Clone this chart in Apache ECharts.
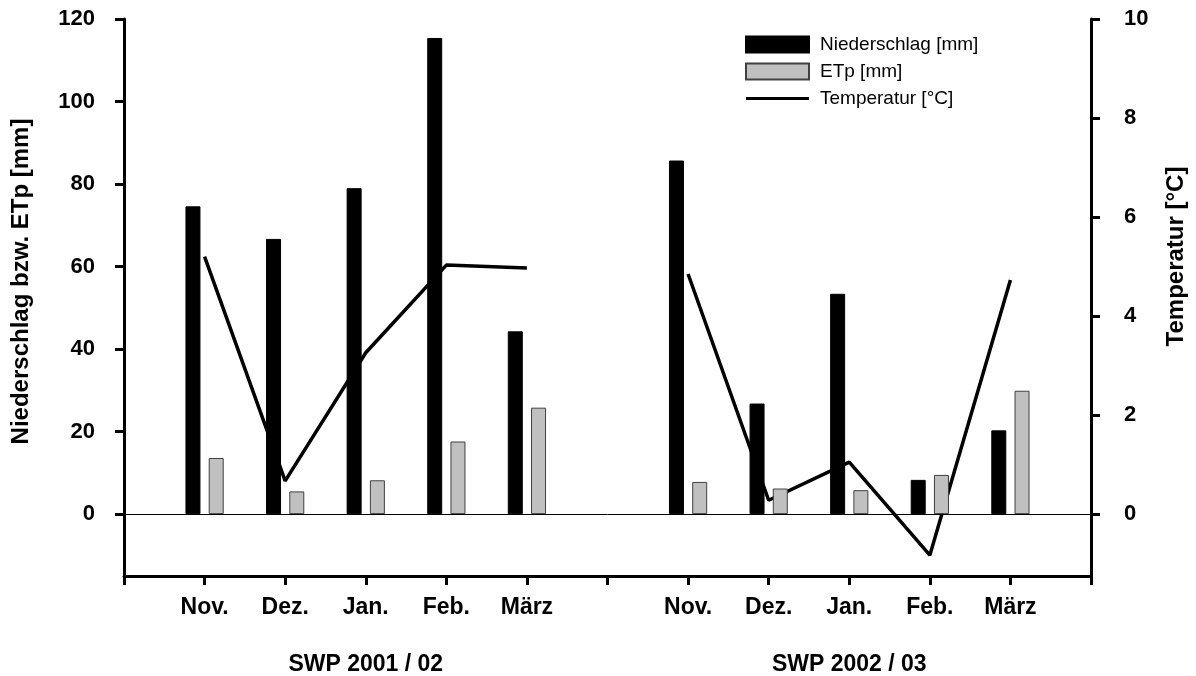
<!DOCTYPE html>
<html>
<head>
<meta charset="utf-8">
<script src="https://cdn.jsdelivr.net/npm/echarts@6/dist/echarts.min.js"></script>
<style>
  html, body { margin: 0; padding: 0; background: #fff; }
  #chart { width: 1196px; height: 676px; }
</style>
</head>
<body>
<div id="chart"></div>
<script>
// categories: empty slots at the ends and between the two seasons
const months = ['', 'Nov.', 'Dez.', 'Jan.', 'Feb.', 'März', '', 'Nov.', 'Dez.', 'Jan.', 'Feb.', 'März', '']
const seasons = ['', '', '', 'SWP 2001 / 02', '', '', '', '', '', 'SWP 2002 / 03', '', '', '']

const niederschlag = [null, 74.6, 66.7, 79.0, 115.4, 44.3, null, 85.7, 26.8, 53.4, 8.3, 20.3, null]
const etp = [null, 13.6, 5.5, 8.2, 17.6, 25.8, null, 7.8, 6.2, 5.8, 9.5, 29.9, null]
const temperatur = [null, 5.2, 0.67, 3.26, 5.03, 4.97, null, 4.85, 0.28, 1.05, -0.83, 4.73, null]

const leftTicks = [0, 20, 40, 60, 80, 100, 120]
const rightTicks = [0, 2, 4, 6, 8, 10]

const font = '"Liberation Sans", Arial, sans-serif'

const chart = echarts.init(document.getElementById('chart'))

const axisLine = { show: true, onZero: false, lineStyle: { color: '#000', width: 3 } }
const axisTick = { show: true, length: 9, lineStyle: { color: '#000', width: 3 } }

// thin bar as legend icon for the line (invisible corner points keep the box size)
const lineIcon = 'path://M0,0L0,0M0,6.5H63V9.5H0ZM63,16L63,16'

chart.setOption({
  animation: false,
  textStyle: { fontFamily: font },
  grid: { left: 124, right: 104, top: 19, bottom: 100 },
  legend: {
    orient: 'vertical',
    left: 740,
    top: 30,
    itemWidth: 63,
    itemHeight: 16,
    itemGap: 8,
    textStyle: { fontFamily: font, fontSize: 19, color: '#000', padding: [0, 0, 0, 6] },
    data: [
      { name: 'Niederschlag [mm]', icon: 'rect' },
      { name: 'ETp [mm]', icon: 'rect' },
      { name: 'Temperatur [°C]', icon: lineIcon, itemStyle: { color: '#000', borderWidth: 0 } }
    ]
  },
  xAxis: [
    {
      type: 'category',
      data: months,
      boundaryGap: false,
      axisLine: axisLine,
      axisTick: { ...axisTick, interval: 0 },
      axisLabel: { interval: 0, margin: 20, fontSize: 23, fontWeight: 'bold', color: '#000' },
      splitLine: { show: false }
    },
    {
      type: 'category',
      data: seasons,
      position: 'bottom',
      offset: 57,
      boundaryGap: false,
      axisLine: { show: false },
      axisTick: { show: false },
      axisLabel: { interval: 0, margin: 20, fontSize: 23, fontWeight: 'bold', color: '#000' },
      splitLine: { show: false }
    }
  ],
  yAxis: [
    {
      type: 'value',
      min: -15,
      max: 120,
      name: 'Niederschlag bzw. ETp [mm]',
      nameLocation: 'middle',
      nameGap: 91,
      nameTextStyle: { fontSize: 24, fontWeight: 'bold', color: '#000', padding: [0, 0, 0, 32] },
      axisLine: axisLine,
      axisTick: { ...axisTick, customValues: leftTicks },
      axisLabel: { customValues: leftTicks, margin: 29, fontSize: 22, fontWeight: 'bold', color: '#000' },
      splitLine: { show: false }
    },
    {
      type: 'value',
      min: -1.25,
      max: 10,
      position: 'right',
      name: 'Temperatur [°C]',
      nameLocation: 'middle',
      nameGap: 73,
      nameTextStyle: { fontSize: 24, fontWeight: 'bold', color: '#000', padding: [0, 0, 0, 82] },
      axisLine: axisLine,
      axisTick: { ...axisTick, customValues: rightTicks },
      axisLabel: { customValues: rightTicks, margin: 33, fontSize: 22, fontWeight: 'bold', color: '#000' },
      splitLine: { show: false }
    }
  ],
  series: [
    {
      name: 'Niederschlag [mm]',
      type: 'bar',
      data: niederschlag,
      barWidth: 15,
      barGap: '55%',
      z: 3,
      itemStyle: { color: '#000', borderColor: '#000', borderWidth: 1 },
      markLine: {
        silent: true,
        symbol: 'none',
        label: { show: false },
        lineStyle: { color: '#000', width: 1, type: 'solid' },
        data: [{ yAxis: 0 }]
      }
    },
    {
      name: 'ETp [mm]',
      type: 'bar',
      data: etp,
      barWidth: 15,
      z: 3,
      itemStyle: { color: '#c0c0c0', borderColor: '#404040', borderWidth: 1 }
    },
    {
      name: 'Temperatur [°C]',
      type: 'line',
      yAxisIndex: 1,
      data: temperatur,
      connectNulls: false,
      symbol: 'none',
      z: 1,
      itemStyle: { color: '#000' },
      lineStyle: { color: '#000', width: 3.5 }
    }
  ]
})
</script>
</body>
</html>
